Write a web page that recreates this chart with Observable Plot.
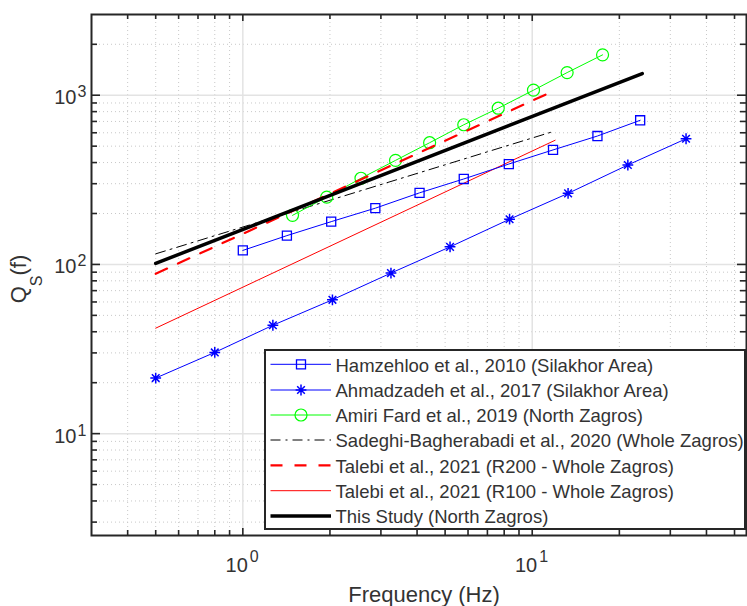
<!DOCTYPE html>
<html>
<head>
<meta charset="utf-8">
<script src="https://cdn.jsdelivr.net/npm/d3@7"></script>
<script src="https://cdn.jsdelivr.net/npm/@observablehq/plot@0.6"></script>
<style>
  html, body { margin: 0; padding: 0; background: #fff; }
  #chart { width: 747px; height: 606px; }
</style>
</head>
<body>
<div id="chart"></div>
<script>
// ---- axis ticks ----
const xMajor = [1, 10];
const xMinor = [0.4, 0.5, 0.6, 0.7, 0.8, 0.9, 2, 3, 4, 5, 6, 7, 8, 9, 20, 30, 40, 50];
const yMajor = [10, 100, 1000];
const yMinor = [3, 4, 5, 6, 7, 8, 9, 20, 30, 40, 50, 60, 70, 80, 90, 200, 300, 400, 500, 600, 700, 800, 900, 2000];

// ---- series ----
const hamzehlooF = [1.0, 1.42, 2.02, 2.87, 4.08, 5.8, 8.3, 11.8, 16.8, 23.6];
const hamzehlooQ = [121, 148, 179, 215, 265, 320, 392, 475, 574, 711];

const ahmadF = [0.5, 0.8, 1.27, 2.04, 3.25, 5.2, 8.35, 13.3, 21.4, 34];
const ahmadQ = [21.3, 30.2, 43.7, 61.8, 88.9, 127, 185, 263, 387, 553];

const amiriF = [1.485, 1.95, 2.56, 3.37, 4.42, 5.8, 7.63, 10.1, 13.2, 17.5];
const amiriQ = [195, 250, 323, 412, 524, 669, 838, 1071, 1361, 1732];

const sadeghiF = [0.5, 12];
const sadeghiQ = [115.5, 615];

const r200F = [0.5, 12];
const r200Q = [88, 1071];

const r100F = [0.5, 12];
const r100Q = [42, 542];

const thisF = [0.5, 24];
const thisQ = [101.4, 1343];

const legendLabels = [
  "Hamzehloo et al., 2010 (Silakhor Area)",
  "Ahmadzadeh et al., 2017 (Silakhor Area)",
  "Amiri Fard et al., 2019 (North Zagros)",
  "Sadeghi-Bagherabadi et al., 2020 (Whole Zagros)",
  "Talebi et al., 2021 (R200 - Whole Zagros)",
  "Talebi et al., 2021 (R100 - Whole Zagros)",
  "This Study (North Zagros)"
];

const zipFQ = (F, Q) => F.map((f, i) => ({f, q: Q[i]}));
const hamzehloo = zipFQ(hamzehlooF, hamzehlooQ);
const ahmad = zipFQ(ahmadF, ahmadQ);
const amiri = zipFQ(amiriF, amiriQ);
const sadeghi = zipFQ(sadeghiF, sadeghiQ);
const r200 = zipFQ(r200F, r200Q);
const r100 = zipFQ(r100F, r100Q);
const thisStudy = zipFQ(thisF, thisQ);

const asterisk = {
  draw(ctx, size) {
    const r = Math.sqrt(size / Math.PI);
    const d = r * Math.SQRT1_2;
    ctx.moveTo(-r, 0); ctx.lineTo(r, 0);
    ctx.moveTo(0, -r); ctx.lineTo(0, r);
    ctx.moveTo(-d, -d); ctx.lineTo(d, d);
    ctx.moveTo(-d, d); ctx.lineTo(d, -d);
  }
};

const W = 747, H = 606, ML = 91, MR = 1, MT = 14, MB = 71;
const FW = W - ML - MR, FH = H - MT - MB;
const AX = "#262626", TXT = "#333";
const BLUE = "#0000ff", GREEN = "#00ff00", RED = "#ff0000";
const FONT = "'Liberation Sans', Arial, Helvetica, sans-serif";

const chart = Plot.plot({
  width: W, height: H,
  marginLeft: ML, marginRight: MR, marginTop: MT, marginBottom: MB,
  x: {type: "log", domain: [0.3, 55], axis: null},
  y: {type: "log", domain: [2.5, 3000], axis: null},
  style: {fontFamily: FONT, background: "#fff", color: TXT},
  marks: [
    // grid
    Plot.ruleX(xMinor, {x: d => d, stroke: "#c8c8c8", strokeWidth: 1, strokeDasharray: "1,3"}),
    Plot.ruleY(yMinor, {y: d => d, stroke: "#c8c8c8", strokeWidth: 1, strokeDasharray: "1,3"}),
    Plot.ruleX(xMajor, {x: d => d, stroke: "#e3e3e3", strokeWidth: 1.5}),
    Plot.ruleY(yMajor, {y: d => d, stroke: "#e3e3e3", strokeWidth: 1.5}),
    // series
    Plot.line(r100, {x: "f", y: "q", stroke: RED, strokeWidth: 1}),
    Plot.line(sadeghi, {x: "f", y: "q", stroke: "#000", strokeWidth: 1, strokeDasharray: "10,5,2,5"}),
    Plot.line(hamzehloo, {x: "f", y: "q", stroke: BLUE, strokeWidth: 1}),
    Plot.dot(hamzehloo, {x: "f", y: "q", symbol: "square", r: 5.1, stroke: BLUE, strokeWidth: 1.3, fill: "none"}),
    Plot.line(ahmad, {x: "f", y: "q", stroke: BLUE, strokeWidth: 1}),
    Plot.dot(ahmad, {x: "f", y: "q", symbol: asterisk, r: 5.4, stroke: BLUE, strokeWidth: 1.5, fill: "none"}),
    Plot.line(amiri, {x: "f", y: "q", stroke: GREEN, strokeWidth: 1}),
    Plot.dot(amiri, {x: "f", y: "q", symbol: "circle", r: 6, stroke: GREEN, strokeWidth: 1.2, fill: "none"}),
    Plot.line(r200, {x: "f", y: "q", stroke: RED, strokeWidth: 2.2, strokeDasharray: "12.5,12"}),
    Plot.line(thisStudy, {x: "f", y: "q", stroke: "#000", strokeWidth: 3.5}),
    // ticks (inward, all four sides)
    Plot.tickX(xMajor, {x: d => d, stroke: AX, strokeWidth: 1.6, insetTop: FH - 7}),
    Plot.tickX(xMajor, {x: d => d, stroke: AX, strokeWidth: 1.6, insetBottom: FH - 7}),
    Plot.tickX(xMinor, {x: d => d, stroke: AX, strokeWidth: 1.6, insetTop: FH - 5}),
    Plot.tickX(xMinor, {x: d => d, stroke: AX, strokeWidth: 1.6, insetBottom: FH - 5}),
    Plot.tickY(yMajor, {y: d => d, stroke: AX, strokeWidth: 1.6, insetRight: FW - 9}),
    Plot.tickY(yMajor, {y: d => d, stroke: AX, strokeWidth: 1.6, insetLeft: FW - 9}),
    Plot.tickY(yMinor, {y: d => d, stroke: AX, strokeWidth: 1.6, insetRight: FW - 6}),
    Plot.tickY(yMinor, {y: d => d, stroke: AX, strokeWidth: 1.6, insetLeft: FW - 6}),
    Plot.frame({stroke: AX, strokeWidth: 2}),
    // tick labels
    Plot.text(xMajor, {x: d => d, frameAnchor: "bottom", text: () => "10", textAnchor: "end",
      lineAnchor: "bottom", dx: 5, dy: 36, fontSize: 20, fill: TXT}),
    Plot.text(xMajor, {x: d => d, frameAnchor: "bottom", text: d => String(Math.round(Math.log10(d))),
      textAnchor: "start", lineAnchor: "bottom", dx: 7, dy: 26, fontSize: 16, fill: TXT}),
    Plot.text(yMajor, {y: d => d, frameAnchor: "left", text: () => "10", textAnchor: "end",
      lineAnchor: "bottom", dx: -15, dy: 9, fontSize: 20, fill: TXT}),
    Plot.text(yMajor, {y: d => d, frameAnchor: "left", text: d => String(Math.round(Math.log10(d))),
      textAnchor: "start", lineAnchor: "bottom", dx: -14, dy: 2, fontSize: 16, fill: TXT}),
    // x axis label
    Plot.text(["Frequency (Hz)"], {frameAnchor: "bottom", text: d => d, lineAnchor: "bottom",
      dx: 5, dy: 66.5, fontSize: 22, fill: TXT})
  ]
});

document.getElementById("chart").appendChild(chart);

const svg = d3.select(chart);

// y axis label with subscript
const yl = svg.append("text")
  .attr("transform", "translate(25.5,279) rotate(-90)")
  .attr("text-anchor", "middle")
  .attr("fill", TXT)
  .style("font-family", FONT)
  .style("font-size", "22px");
yl.append("tspan").text("Q");
yl.append("tspan").attr("dy", 16).style("font-size", "16px").text("S");
yl.append("tspan").attr("dy", -16).text("(f)");

// legend
const lg = svg.append("g").attr("text-anchor", "start");
lg.append("rect").attr("x", 265).attr("y", 350).attr("width", 480).attr("height", 179)
  .attr("fill", "#fff").attr("stroke", AX).attr("stroke-width", 2);
const rowsY = [364.3, 390, 415, 440, 465.3, 490.7, 516];
const styles = [
  {stroke: BLUE, w: 1, dash: null, sym: d3.symbolSquare, size: 81, mw: 1.3},
  {stroke: BLUE, w: 1, dash: null, sym: asterisk, size: Math.PI * 5.4 * 5.4, mw: 1.5},
  {stroke: GREEN, w: 1, dash: null, sym: d3.symbolCircle, size: Math.PI * 36, mw: 1.2},
  {stroke: "#000", w: 1, dash: "10,5,2,5", sym: null},
  {stroke: RED, w: 2.2, dash: "12,12", sym: null},
  {stroke: RED, w: 1, dash: null, sym: null},
  {stroke: "#000", w: 3.5, dash: null, sym: null}
];
legendLabels.forEach((lab, i) => {
  const y = rowsY[i], s = styles[i];
  const ln = lg.append("line").attr("x1", 270.5).attr("x2", 331).attr("y1", y).attr("y2", y)
    .attr("stroke", s.stroke).attr("stroke-width", s.w);
  if (s.dash) ln.attr("stroke-dasharray", s.dash);
  if (s.sym) {
    lg.append("path").attr("d", d3.symbol(s.sym, s.size)())
      .attr("transform", `translate(301,${y})`)
      .attr("fill", "none").attr("stroke", s.stroke).attr("stroke-width", s.mw);
  }
  lg.append("text").attr("x", 335.5).attr("y", y + 7.2).attr("fill", TXT)
    .attr("text-anchor", "start")
    .style("font-family", FONT).style("font-size", "18.5px").text(lab);
});
</script>
</body>
</html>
